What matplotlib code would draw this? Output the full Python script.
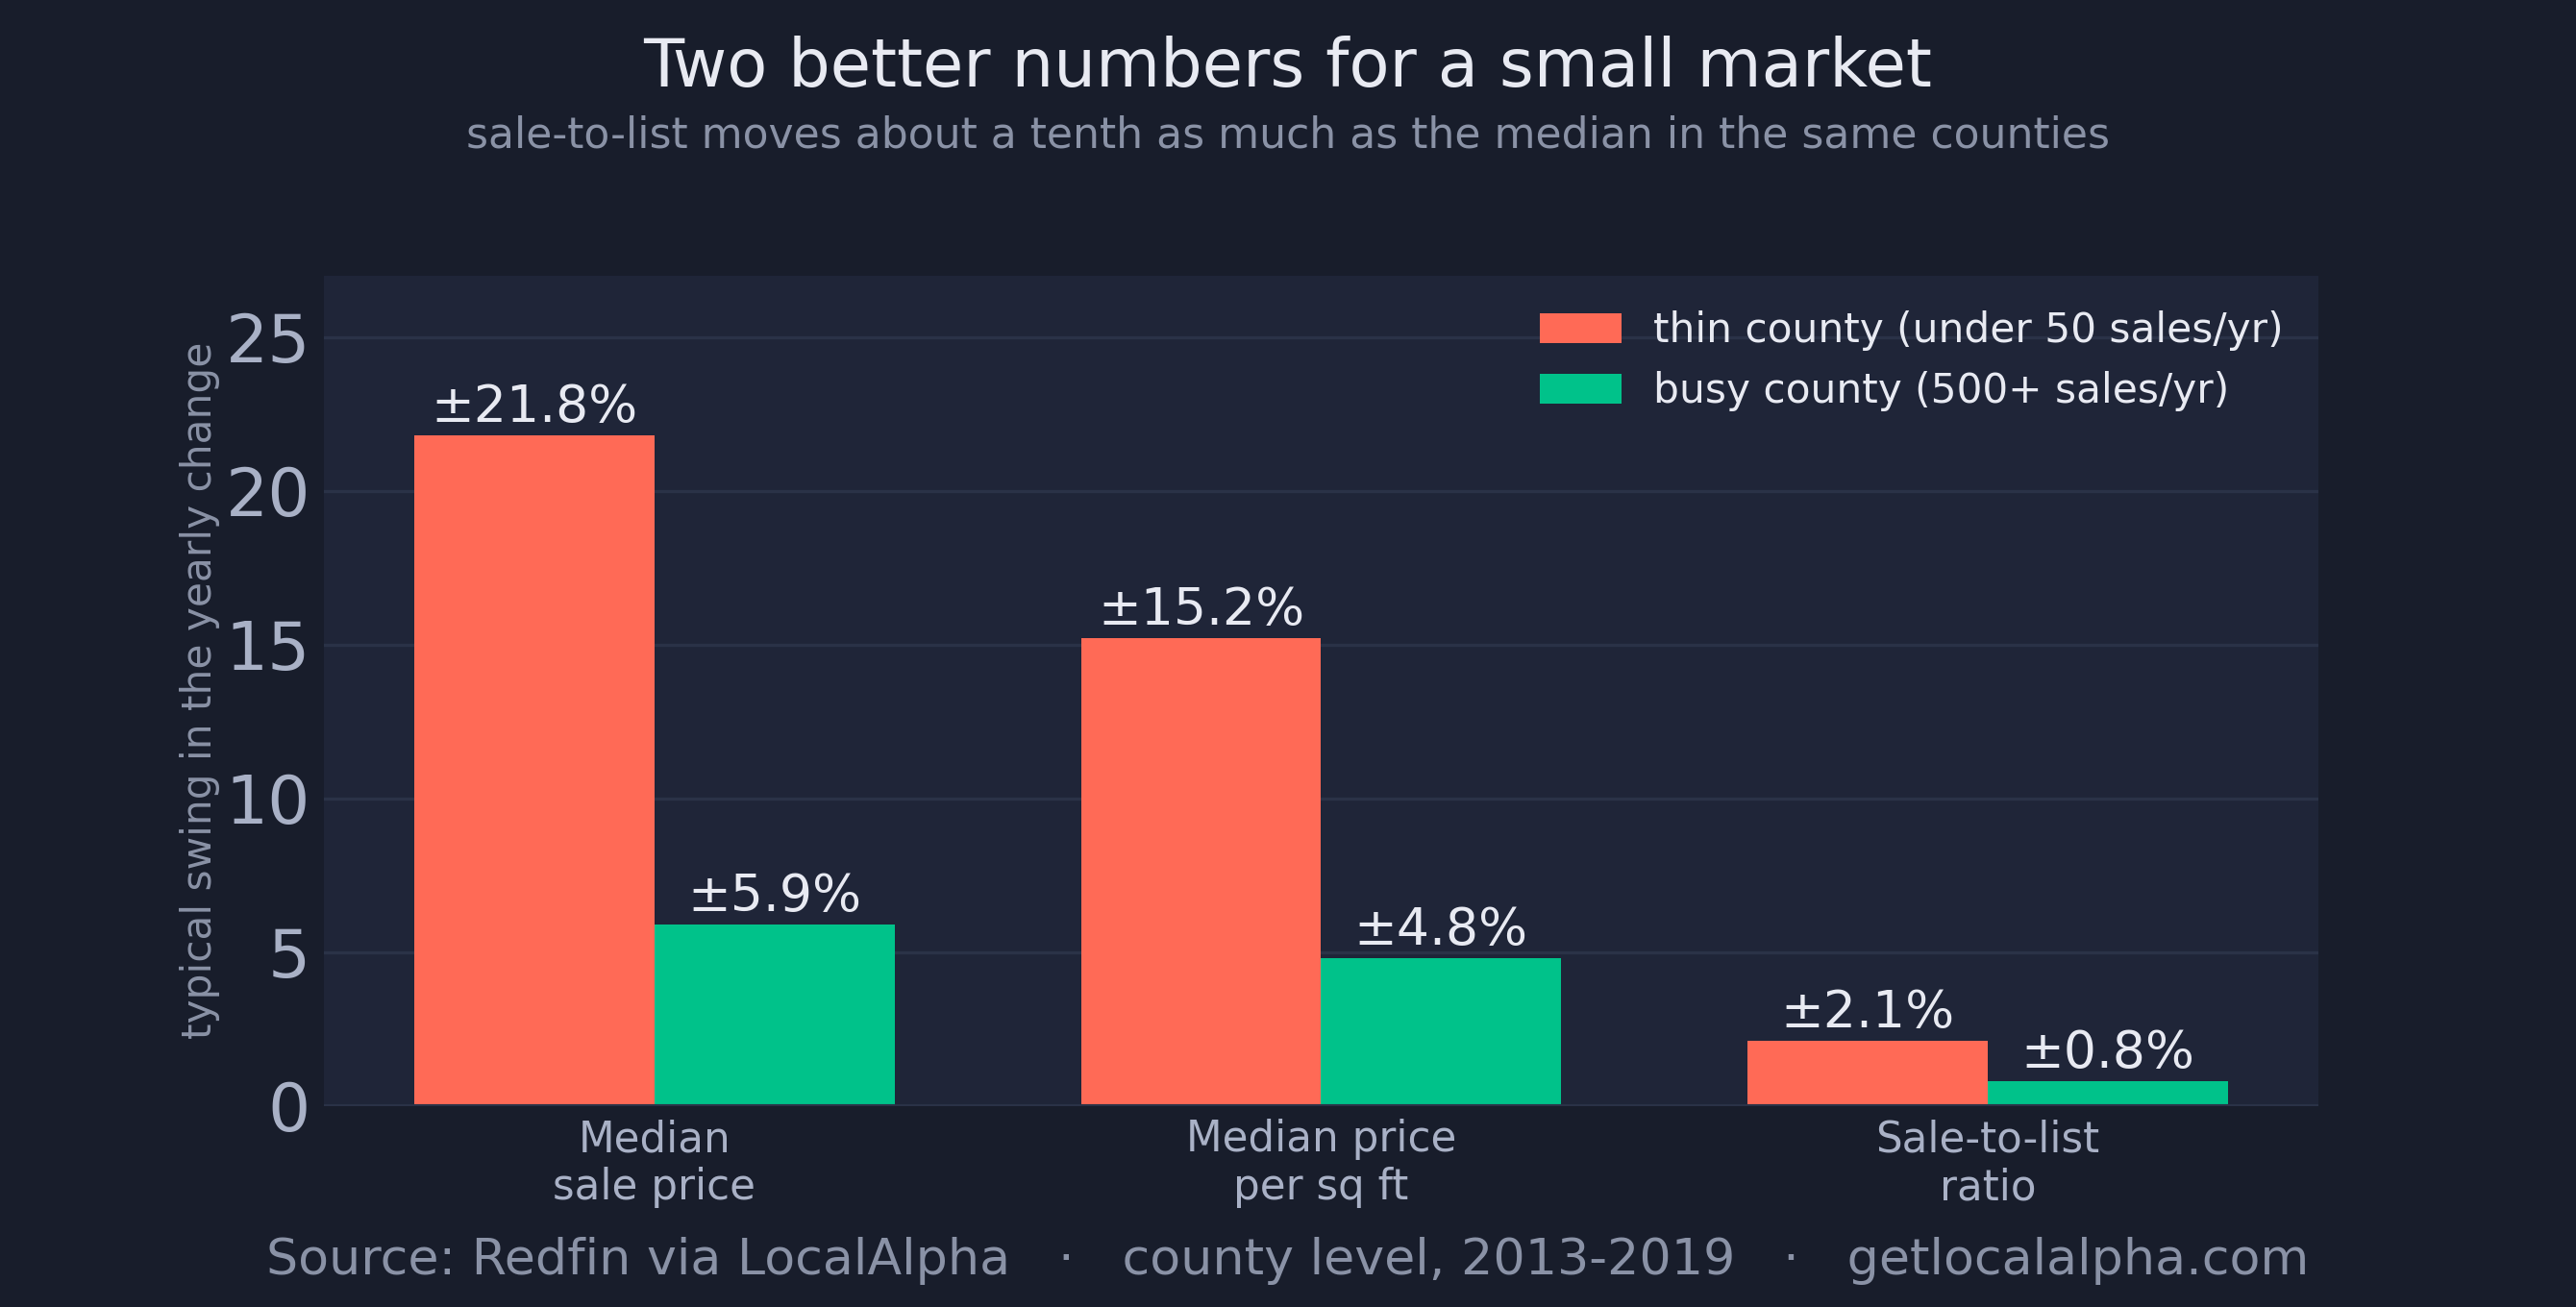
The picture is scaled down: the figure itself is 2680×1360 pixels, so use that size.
import matplotlib.pyplot as plt
import numpy as np

categories = ['Median\nsale price', 'Median price\nper sq ft', 'Sale-to-list\nratio']
thin_vals = [21.8, 15.2, 2.1]
busy_vals = [5.9, 4.8, 0.8]
series_names = ['thin county (under 50 sales/yr)', 'busy county (500+ sales/yr)']

BG = '#181d2b'
PANEL = '#1f2538'
GRID = '#2a3247'
RED = '#ff6a56'
GREEN = '#00c28a'
TXT = '#e8eaf2'
MUTED = '#a9b1c6'
DIM = '#8a92a6'

dpi = 200
fig = plt.figure(figsize=(2680 / dpi, 1360 / dpi), dpi=dpi, facecolor=BG)
ax = fig.add_axes([0.1257, 0.154, 0.7743, 0.635])
ax.set_facecolor(PANEL)

x = np.arange(len(categories))
w = 0.36
b1 = ax.bar(x - w / 2, thin_vals, w, color=RED, label=series_names[0], zorder=3)
b2 = ax.bar(x + w / 2, busy_vals, w, color=GREEN, label=series_names[1], zorder=3)

for bars in (b1, b2):
    for r in bars:
        ax.text(r.get_x() + r.get_width() / 2, r.get_height() + 0.1,
                '±%.1f%%' % r.get_height(), ha='center', va='bottom',
                color=TXT, fontsize=19.3)

ax.set_ylim(0, 27)
ax.set_yticks([0, 5, 10, 15, 20, 25])
ax.set_xticks(x)
ax.set_xticklabels(categories, color=MUTED, fontsize=15.7)
ax.tick_params(axis='y', colors=MUTED, labelsize=25, length=0, pad=5)
ax.tick_params(axis='x', length=0, pad=5)
ax.grid(axis='y', color=GRID, linewidth=1.2, zorder=0)
for s in ax.spines.values():
    s.set_visible(False)
ax.axhline(0, color=GRID, linewidth=1.5, zorder=4)

ax.set_ylabel('typical swing in the yearly change', color=DIM, fontsize=15.2, labelpad=2)

leg = ax.legend(loc='upper right', frameon=False, fontsize=15.2, labelcolor=TXT,
                handlelength=2.0, handleheight=0.75, borderaxespad=0.45)

fig.text(0.5, 0.948, 'Two better numbers for a small market', ha='center', va='center',
         color=TXT, fontsize=24.8)
fig.text(0.5, 0.896, 'sale-to-list moves about a tenth as much as the median in the same counties',
         ha='center', va='center', color=DIM, fontsize=15.9)
fig.text(0.5, 0.035, 'Source: Redfin via LocalAlpha   ·   county level, 2013-2019   ·   getlocalalpha.com',
         ha='center', va='center', color=DIM, fontsize=18.8)

fig.savefig('out.png', dpi=dpi, facecolor=BG)
